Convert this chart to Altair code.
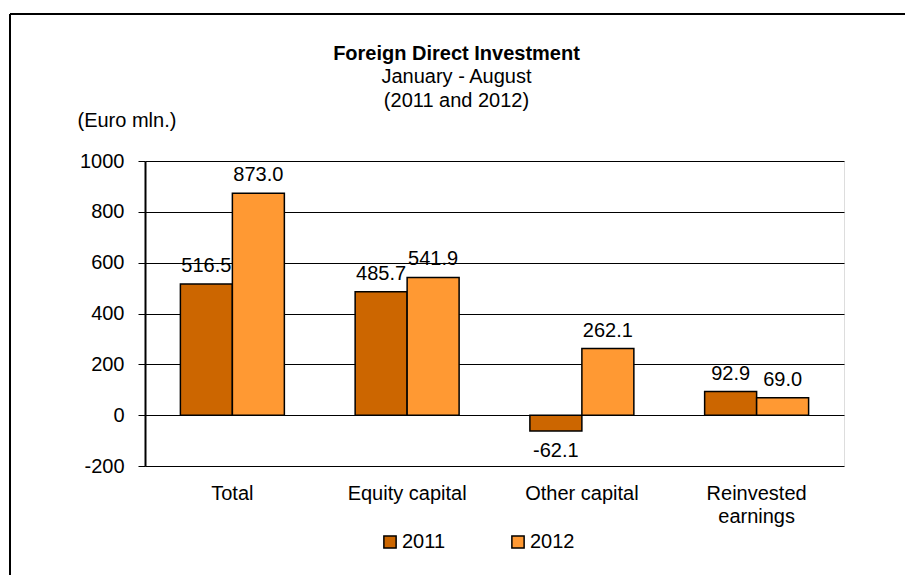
import altair as alt
import pandas as pd

categories = ["Total", "Equity capital", "Other capital", "Reinvested earnings"]
years = ["2011", "2012"]
values_2011 = [516.5, 485.7, -62.1, 92.9]
values_2012 = [873.0, 541.9, 262.1, 69.0]
y_ticks = [-200, 0, 200, 400, 600, 800, 1000]

rows = []
for c, a, b in zip(categories, values_2011, values_2012):
    rows.append({"cat": c, "year": "2011", "value": a, "label": f"{a:.1f}"})
    rows.append({"cat": c, "year": "2012", "value": b, "label": f"{b:.1f}"})
df = pd.DataFrame(rows)

FONT = "Liberation Sans"
FS = 20

x_enc = alt.X("cat:N", sort=categories,
              scale=alt.Scale(paddingInner=0.405, paddingOuter=0.2025),
              axis=alt.Axis(title=None, labelAngle=0, domain=False, ticks=False,
                            labelPadding=17, labelFontSize=FS, labelFont=FONT,
                            labelColor="black", labelLineHeight=23,
                            labelExpr="datum.label == 'Reinvested earnings' ? ['Reinvested', 'earnings'] : datum.label"))
y_scale = alt.Scale(domain=[-200, 1000], nice=False, zero=False)
y_enc = alt.Y("value:Q", scale=y_scale,
              axis=alt.Axis(title="(Euro mln.)", titleAngle=0, titleAlign="left",
                            titleBaseline="alphabetic", titleX=-68, titleY=-35,
                            titleFontSize=FS, titleFont=FONT, titleFontWeight="normal",
                            titleColor="black",
                            values=y_ticks, labelFontSize=FS, labelFont=FONT,
                            labelExpr="datum.value < 0 ? '-' + format(-datum.value, 'd') : format(datum.value, 'd')",
                            labelColor="black", tickSize=7, tickColor="black",
                            labelPadding=14, domainColor="black", domainWidth=2,
                            grid=True, gridColor="black", gridWidth=1))
xo = alt.XOffset("year:N", sort=years)

base = alt.Chart(df)

bars = base.mark_bar(stroke="black", strokeWidth=1.5).encode(
    x=x_enc, xOffset=xo, y=y_enc, y2=alt.datum(0),
    color=alt.Color("year:N", sort=years,
                    scale=alt.Scale(domain=years, range=["#CC6600", "#FF9933"]),
                    legend=alt.Legend(title=None, orient="none", direction="horizontal",
                                      legendX=235, legendY=371,
                                      symbolType="square", symbolSize=150,
                                      symbolStrokeColor="black", symbolStrokeWidth=1.5,
                                      labelFontSize=FS, labelFont=FONT, labelColor="black",
                                      labelOffset=2, columnPadding=62)))

pos_text = base.transform_filter("datum.value >= 0").mark_text(
    baseline="alphabetic", dy=-12, fontSize=FS, font=FONT, color="black").encode(
    x=alt.X("cat:N", sort=categories), xOffset=xo, y=alt.Y("value:Q", scale=y_scale),
    text="label:N")
neg_text = base.transform_filter("datum.value < 0").mark_text(
    baseline="top", dy=10, fontSize=FS, font=FONT, color="black").encode(
    x=alt.X("cat:N", sort=categories), xOffset=xo, y=alt.Y("value:Q", scale=y_scale),
    text="label:N")

frame_df = pd.DataFrame({"k": [0]})
frame_top = alt.Chart(frame_df).mark_rule(color="black", strokeWidth=2).encode(
    x=alt.value(-135), x2=alt.value(900), y=alt.value(-147))
frame_left = alt.Chart(frame_df).mark_rule(color="black", strokeWidth=2).encode(
    x=alt.value(-135), y=alt.value(-147), y2=alt.value(600))

chart = alt.layer(bars, pos_text, neg_text, frame_top, frame_left).properties(
    width=699, height=305,
    autosize=alt.AutoSizeParams(type="none"),
    padding={"left": 137, "top": 153, "right": 61, "bottom": 109},
    title=alt.TitleParams(text="Foreign Direct Investment",
                          subtitle=["January - August", "(2011 and 2012)"],
                          anchor="middle", dx=-38, offset=-98,
                          font=FONT, fontSize=FS, fontWeight="bold", color="black",
                          subtitleFont=FONT, subtitleFontSize=FS, subtitleColor="black",
                          subtitleLineHeight=24, subtitlePadding=3),
).configure_view(stroke="#888888", strokeWidth=2).configure(background="white")

chart.save("out.html", embed_options={"renderer": "svg", "actions": False})
